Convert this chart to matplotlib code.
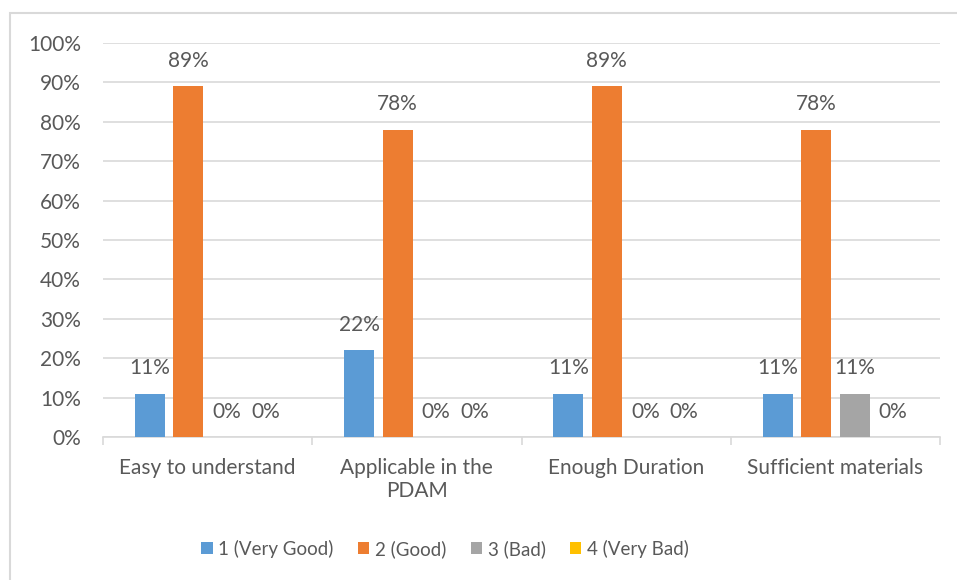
import matplotlib
matplotlib.use("Agg")
import matplotlib.pyplot as plt
from matplotlib.patches import Rectangle
from matplotlib.ticker import PercentFormatter, FixedLocator
import numpy as np

categories = ["Easy to understand", "Applicable in the\nPDAM", "Enough Duration", "Sufficient materials"]
series_names = ["1 (Very Good)", "2 (Good)", "3 (Bad)", "4 (Very Bad)"]
very_good = [0.11, 0.22, 0.11, 0.11]
good = [0.89, 0.78, 0.89, 0.78]
bad = [0.00, 0.00, 0.00, 0.11]
very_bad = [0.00, 0.00, 0.00, 0.00]
colors = ["#5B9BD5", "#ED7D31", "#A5A5A5", "#FFC000"]

plt.rcParams["font.family"] = ["Lato", "DejaVu Sans"]
text_color = "#595959"
grid_color = "#D9D9D9"
fs = 15

W, H = 957, 580
fig = plt.figure(figsize=(W / 100, H / 100), dpi=100)

# chart frame
fig.patches.append(Rectangle((10 / W, -0.05), 1.0, (H - 13) / H + 0.05,
                             transform=fig.transFigure, fill=False,
                             edgecolor=grid_color, linewidth=1.5))

ax = fig.add_axes([103 / W, 143 / H, (940 - 103) / W, (437 - 43) / H])

values = [very_good, good, bad, very_bad]
x = np.arange(len(categories))
pitch = 0.184
width = 0.144
for i, (name, vals, c) in enumerate(zip(series_names, values, colors)):
    pos = x + (i - 1.5) * pitch
    bars = ax.bar(pos, vals, width=width, color=c, label=name, zorder=3)
    for b, v in zip(bars, vals):
        ax.annotate(f"{v:.0%}", (b.get_x() + b.get_width() / 2, v),
                    xytext=(0, 11), textcoords="offset points",
                    ha="center", va="bottom", fontsize=fs, color=text_color)

ax.set_xlim(-0.5, 3.5)
ax.set_ylim(0, 1.0)
ax.yaxis.set_major_locator(FixedLocator(np.linspace(0, 1, 11)))
ax.yaxis.set_major_formatter(PercentFormatter(1.0, decimals=0))
ax.grid(axis="y", color=grid_color, linewidth=1.2, zorder=0)
ax.set_axisbelow(True)

for s in ["top", "right", "left"]:
    ax.spines[s].set_visible(False)
ax.spines["bottom"].set_color(grid_color)
ax.spines["bottom"].set_linewidth(1.2)

ax.set_xticks(x)
ax.set_xticklabels(categories)
ax.set_xticks(np.arange(-0.5, 4.0, 1.0), minor=True)
ax.tick_params(axis="x", which="major", length=0, pad=15, labelsize=fs, labelcolor=text_color)
ax.tick_params(axis="x", which="minor", length=6, color=grid_color, width=1.2)
ax.tick_params(axis="y", length=0, pad=16, labelsize=fs, labelcolor=text_color)
for lbl in ax.get_xticklabels():
    lbl.set_verticalalignment("top")
    lbl.set_linespacing(1.2)

leg = fig.legend(loc="center", bbox_to_anchor=(445 / W, (H - 549) / H), ncol=4,
                 frameon=False, fontsize=13.5, labelcolor=text_color,
                 handlelength=0.6, handleheight=0.6, handletextpad=0.3,
                 columnspacing=1.3)

fig.savefig("out.png", dpi=100, facecolor="white")
